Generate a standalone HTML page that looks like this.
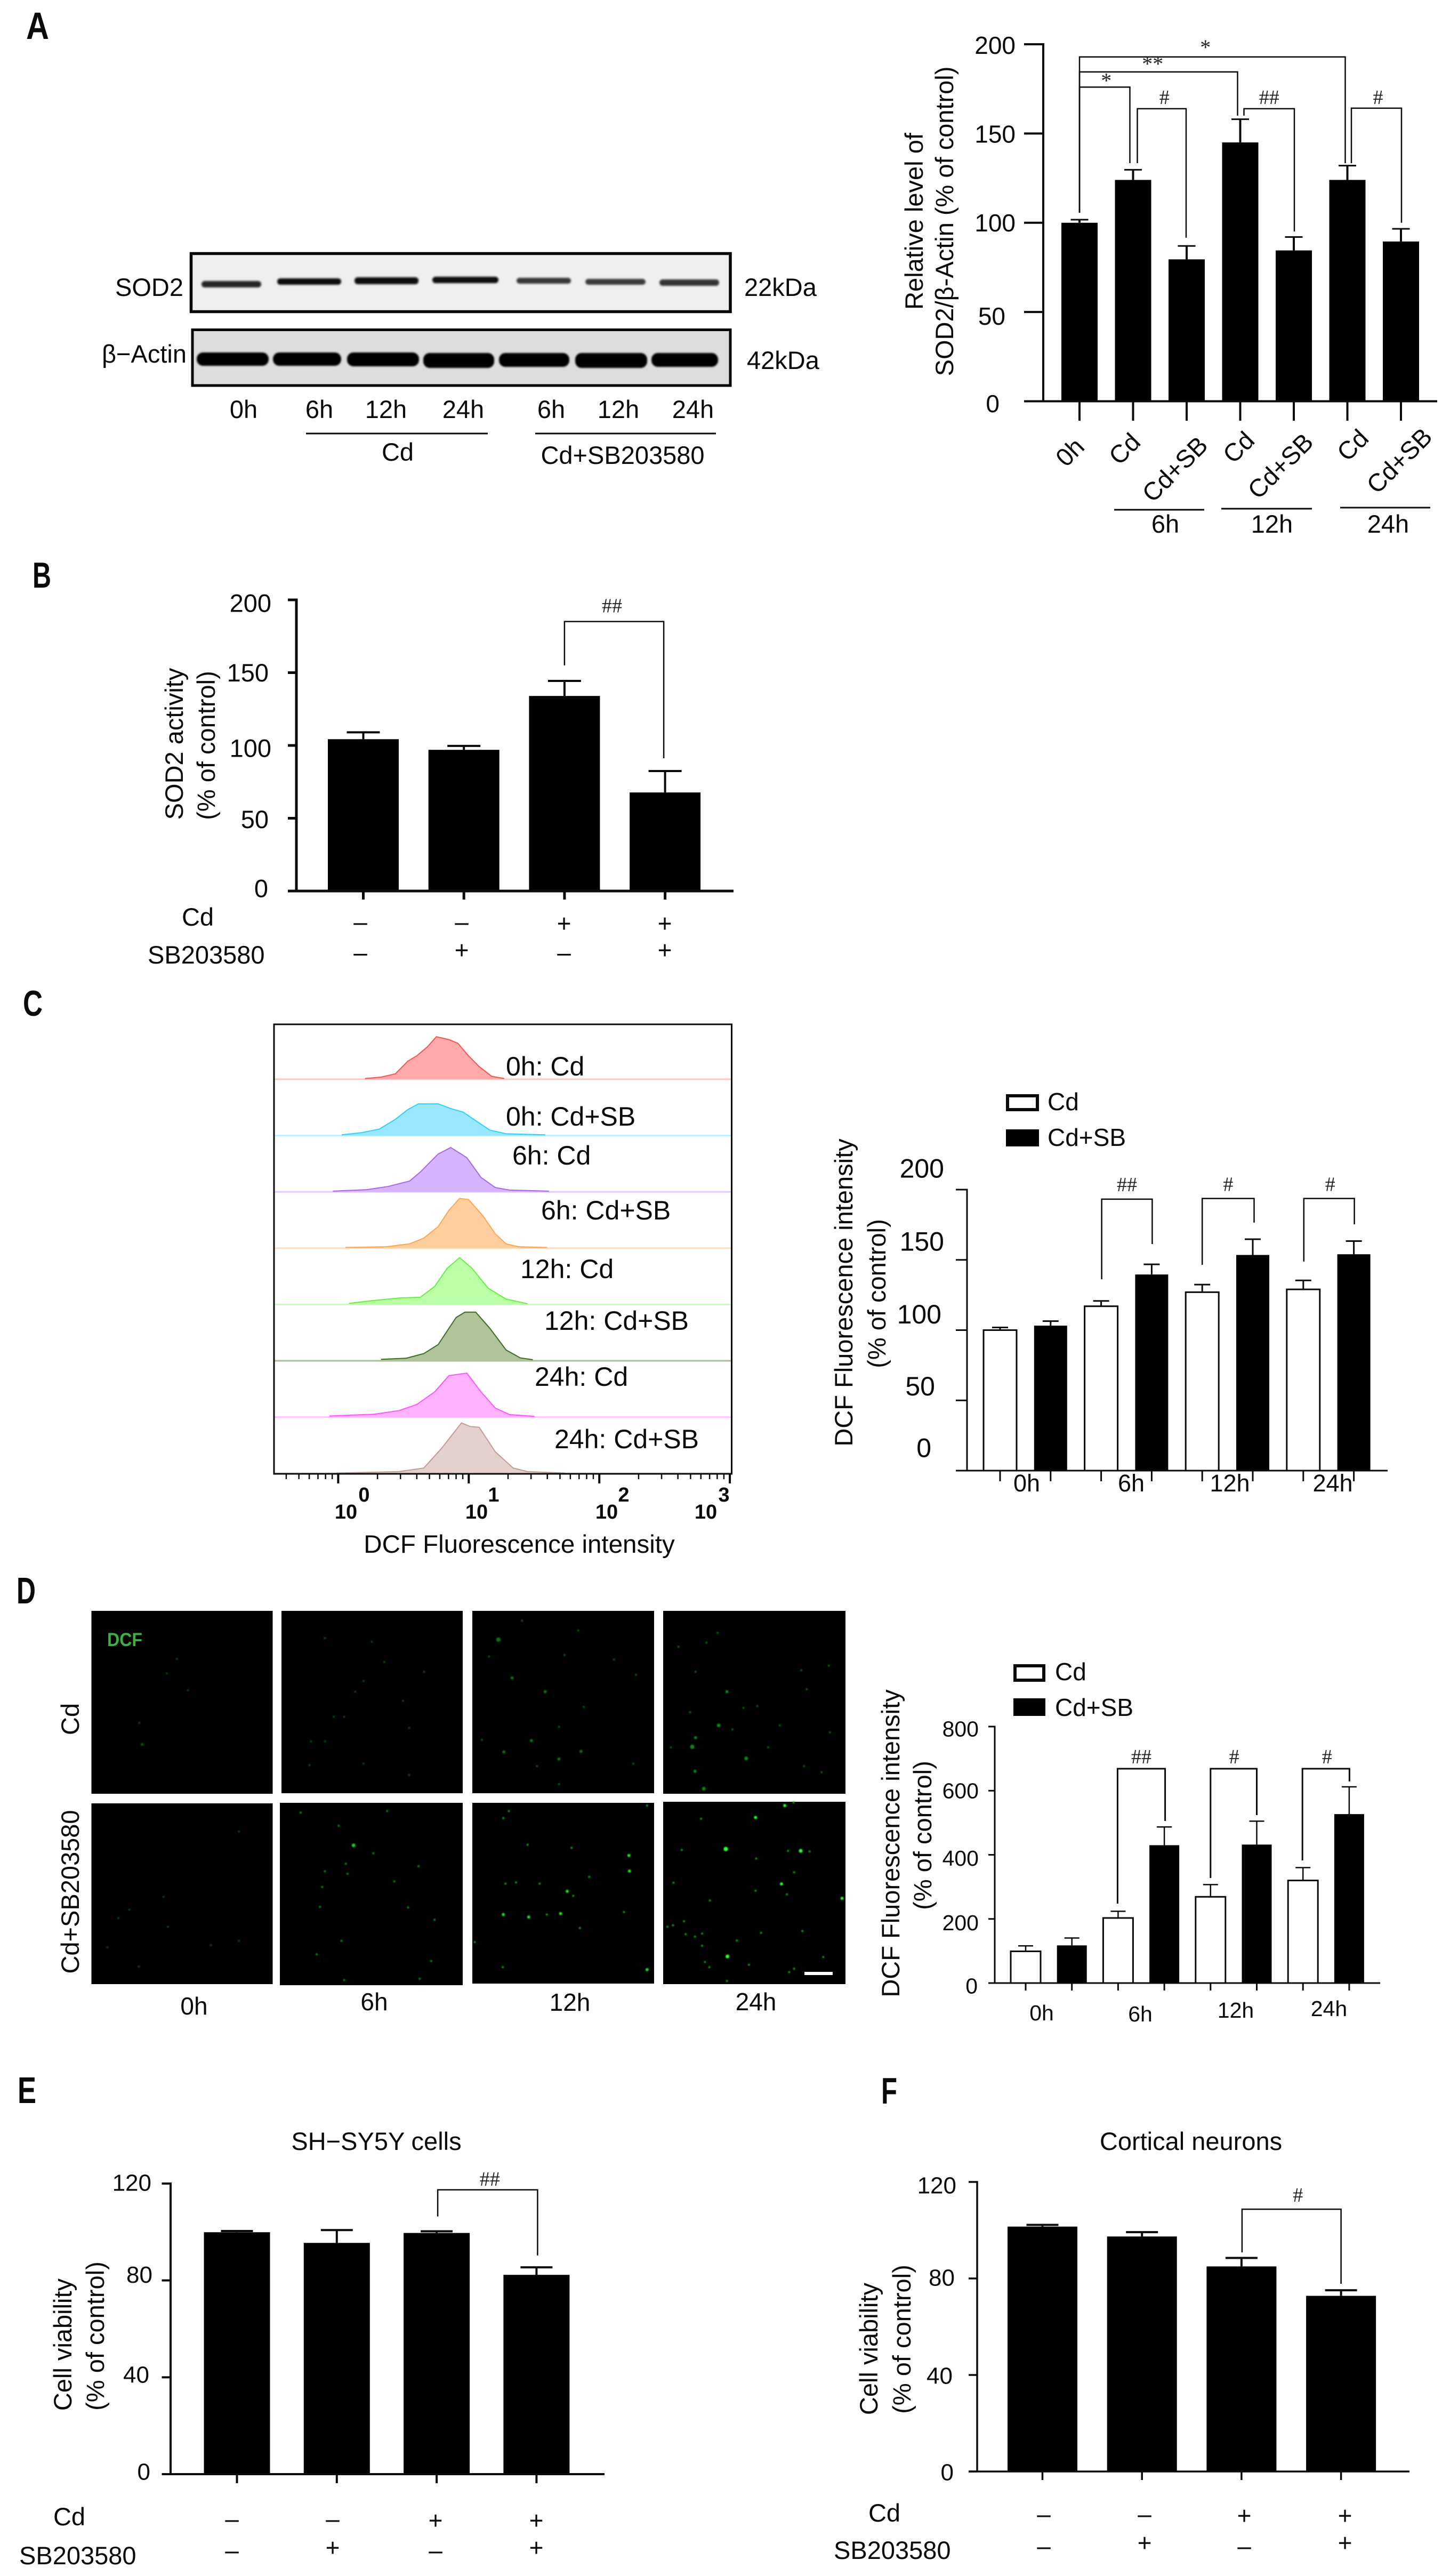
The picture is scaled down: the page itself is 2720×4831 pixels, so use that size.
<!DOCTYPE html>
<html lang="en">
<head>
<meta charset="utf-8">
<title>SOD2 and DCF multi-panel figure</title>
<style>
html,body{margin:0;padding:0;background:#fff;}
svg{display:block;font-family:"Liberation Sans",sans-serif;fill:#0a0a0a;}
.letter{font-weight:bold;}
</style>
</head>
<body>
<svg id="figure" xmlns="http://www.w3.org/2000/svg" width="2720" height="4831" viewBox="0 0 2720 4831">
<defs>
<filter id="blur3" x="-20%" y="-80%" width="140%" height="260%"><feGaussianBlur stdDeviation="1.8"/></filter>
<filter id="blur2" x="-20%" y="-50%" width="140%" height="200%"><feGaussianBlur stdDeviation="1.6"/></filter>
<filter id="dotblur" x="-300%" y="-300%" width="700%" height="700%"><feGaussianBlur stdDeviation="1"/></filter>
</defs>
<rect x="0" y="0" width="2720" height="4831" fill="#fff"/>

<text class="letter" x="49" y="73" font-size="71" textLength="43" lengthAdjust="spacingAndGlyphs">A</text>
<text class="letter" x="61" y="1102" font-size="68" textLength="35" lengthAdjust="spacingAndGlyphs">B</text>
<text class="letter" x="43" y="1905" font-size="68" textLength="37" lengthAdjust="spacingAndGlyphs">C</text>
<text class="letter" x="31" y="3007" font-size="70" textLength="36" lengthAdjust="spacingAndGlyphs">D</text>
<text class="letter" x="33" y="3944" font-size="70" textLength="35" lengthAdjust="spacingAndGlyphs">E</text>
<text class="letter" x="1653" y="3945" font-size="70" textLength="30" lengthAdjust="spacingAndGlyphs">F</text>

<g>
  <rect x="358.5" y="475.5" width="1011.5" height="109" fill="#efefef" stroke="#050505" stroke-width="5.5"/>
  <g filter="url(#blur3)" fill="#080808">
    <rect x="378" y="527" width="112" height="12" rx="6" opacity=".9"/>
    <rect x="520" y="522" width="120" height="12" rx="6"/>
    <rect x="665" y="520" width="120" height="13" rx="6"/>
    <rect x="811" y="519" width="124" height="12" rx="6"/>
    <rect x="969" y="521" width="102" height="11" rx="6" opacity=".82"/>
    <rect x="1098" y="523" width="113" height="11" rx="6" opacity=".75"/>
    <rect x="1237" y="524" width="112" height="12" rx="6" opacity=".78"/>
  </g>
  <rect x="361" y="618.5" width="1009" height="104.5" fill="#dddddd" stroke="#050505" stroke-width="5"/>
  <g filter="url(#blur2)" fill="#030303">
    <rect x="369" y="661" width="135" height="25" rx="12"/>
    <rect x="512" y="661" width="128" height="25" rx="12"/>
    <rect x="651" y="661" width="135" height="26" rx="12"/>
    <rect x="794" y="662" width="133" height="28" rx="12"/>
    <rect x="936" y="662" width="132" height="26" rx="12"/>
    <rect x="1079" y="662" width="135" height="28" rx="12"/>
    <rect x="1222" y="662" width="125" height="26" rx="12"/>
  </g>
  <text x="344" y="555" font-size="47" text-anchor="end">SOD2</text>
  <text x="350" y="680" font-size="47" text-anchor="end">β−Actin</text>
  <text x="1396" y="555" font-size="47">22kDa</text>
  <text x="1401" y="692" font-size="47">42kDa</text>
  <g font-size="47" text-anchor="middle">
    <text x="457" y="784">0h</text>
    <text x="599" y="784">6h</text>
    <text x="724" y="784">12h</text>
    <text x="869" y="784">24h</text>
    <text x="1034" y="784">6h</text>
    <text x="1160" y="784">12h</text>
    <text x="1300" y="784">24h</text>
    <text x="746" y="864">Cd</text>
    <text x="1168" y="870">Cd+SB203580</text>
  </g>
  <line x1="574" y1="813" x2="915" y2="813" stroke="#0a0a0a" stroke-width="3"/>
  <line x1="1004" y1="813" x2="1343" y2="813" stroke="#0a0a0a" stroke-width="3"/>
</g>
</svg>

<script>
/* ---------- chart values ---------- */
const aCategories = ['0h','Cd','Cd+SB','Cd','Cd+SB','Cd','Cd+SB'];
const aValues = [100,124,79.5,145,84.5,124,89.5];
const aErrors = [1.7,5.7,7.5,13,7.5,8,7.1];
const aTicks = [0,50,100,150,200];
const aTimeGroups = ['6h','12h','24h'];
const aBrackets = [
  {from:0,to:5,level:192.9,fromEnd:105.6,toEnd:133.4,label:'*'},
  {from:0,to:3,level:184.5,fromEnd:105.6,toEnd:160,label:'**'},
  {from:0,to:1,level:176,fromEnd:105.6,toEnd:133.4,label:'*'},
  {from:1,to:2,level:163.9,fromEnd:133.4,toEnd:91.6,label:'#'},
  {from:3,to:4,level:163.9,fromEnd:160,toEnd:95.1,label:'##'},
  {from:5,to:6,level:164.2,fromEnd:133.4,toEnd:100,label:'#'}
];

const bValues = [104.3,97,134,67.7];
const bErrors = [4.7,2.7,10.3,14.7];
const bTicks = [0,50,100,150,200];
const bCdRow = ['–','–','+','+'];
const bSbRow = ['–','+','–','+'];
const bBrackets = [{from:2,to:3,level:185.1,fromEnd:155,toEnd:91.2,label:'##'}];

const histLabels = ['0h: Cd','0h: Cd+SB','6h: Cd','6h: Cd+SB','12h: Cd','12h: Cd+SB','24h: Cd','24h: Cd+SB'];
const histLog0hCd = [.205,.328,.438,.533,.602,.684,.752,.848,.916,.998,1.08,1.176,1.272];
const histCount0hCd = [2,6,15,50,65,90,118,110,100,65,35,8,2];
const histLog0hSb = [.027,.178,.315,.438,.533,.615,.766,.862,.957,1.067,1.162,1.286,1.586];
const histCount0hSb = [2,8,18,45,72,88,88,75,65,38,15,5,2];
const histLog6hCd = [-.041,.219,.383,.547,.629,.766,.862,.985,1.094,1.203,1.313,1.614];
const histCount6hCd = [2,6,15,30,55,105,123,95,40,12,5,2];
const histLog6hSb = [.055,.369,.547,.656,.766,.848,.93,.998,1.108,1.203,1.286,1.381,1.6];
const histCount6hSb = [2,4,12,28,60,105,138,135,90,40,12,4,2];
const histLog12hCd = [.082,.246,.465,.629,.739,.834,.93,1.026,1.149,1.286,1.45];
const histCount12hCd = [3,10,18,20,50,100,130,100,45,15,2];
const histLog12hSb = [.328,.52,.656,.766,.903,.971,1.053,1.162,1.286,1.395,1.491];
const histCount12hSb = [4,7,20,45,120,135,135,90,30,8,3];
const histLog24hCd = [-.068,.274,.465,.602,.739,.848,.985,1.094,1.203,1.313,1.504];
const histCount24hCd = [3,8,18,35,70,115,122,70,25,7,2];
const histLog24hSb = [-.014,.465,.656,.793,.944,1.012,1.08,1.203,1.34,1.45,1.737];
const histCount24hSb = [1,5,15,70,140,130,128,60,15,5,1];
const histDecades = [0,1,2,3];

const cGroups = ['0h','6h','12h','24h'];
const cCdValues = [100,117,127,129];
const cCdErrors = [1.9,3.8,5.4,6.4];
const cSbValues = [103.2,139.6,153.5,154];
const cSbErrors = [3.2,7.2,11.2,9.4];
const cTicks = [0,50,100,150,200];
const cBrackets = [
  {from:2,to:3,level:193.2,fromEnd:136.2,toEnd:161.3,label:'##'},
  {from:4,to:5,level:193.7,fromEnd:146.5,toEnd:176.5,label:'#'},
  {from:6,to:7,level:193.7,fromEnd:148.8,toEnd:175.3,label:'#'}
];

const dGroups = ['0h','6h','12h','24h'];
const dCdValues = [99,203,269,320];
const dCdErrors = [17,21,38,40];
const dSbValues = [117.5,430,432,527];
const dSbErrors = [23,57,73,85];
const dTicks = [0,200,400,600,800];
const dBrackets = [
  {from:2,to:3,level:668.6,fromEnd:247.9,toEnd:505.6,label:'##'},
  {from:4,to:5,level:668.6,fromEnd:327.6,toEnd:524,label:'#'},
  {from:6,to:7,level:668.6,fromEnd:382.5,toEnd:628.9,label:'#'}
];

const eValues = [99.9,95.5,99.6,82.3];
const eErrors = [.5,5.3,.7,3.1];
const eTicks = [0,40,80,120];
const eCdRow = ['–','–','+','+'];
const eSbRow = ['–','+','–','+'];
const eBrackets = [{from:2,to:3,level:117.4,fromEnd:106.4,toEnd:90.3,label:'##'}];

const fValues = [101.5,97.4,85,72.8];
const fErrors = [.7,1.8,3.5,2.3];
const fTicks = [0,40,80,120];
const fCdRow = ['–','–','+','+'];
const fSbRow = ['–','+','–','+'];
const fBrackets = [{from:2,to:3,level:108.7,fromEnd:90.8,toEnd:77.8,label:'#'}];

/* ---------- micrograph spots (image coordinates, not chart data) ---------- */
const spotsCd0h = [[321,333],[253,542],[258,612,5],[341,435],[303,380]];
const spotsCd6h = [[698,343],[660,405],[645,440],[606,522],[625,522],[590,265],[675,277],[770,375],[743,558],[732,470],[562,680],[743,712],[590,602],[565,602],[660,675]];
const spotsCd12h = [[1050,240],[948,208],[905,270,7],[888,325],[1025,320],[930,395,5],[1155,385],[990,440,5],[1060,490],[1015,555],[965,600,5],[915,637,5],[1055,635,5],[1015,660,5],[875,597],[1150,675],[1115,335],[975,683],[1015,742]];
const spotsCd24h = [[1232,293],[1303,248],[1263,375],[1320,440,5],[1350,493],[1253,507],[1305,550,6],[1416,550],[1330,563],[1257,620,7],[1263,590,5],[1355,658,6],[1505,355],[1507,573],[1465,432],[1375,487],[1395,622],[1460,683],[1278,757,6],[1262,700,5],[1492,703],[1455,370],[1283,280],[1218,622]];
const spotsSb0h = [[434,897],[235,1152],[383,1268],[434,1254],[195,1275],[297,1110],[215,1180],[305,1208],[252,1338]];
const spotsSb6h = [[703,830],[546,835],[642,942,6],[678,968],[628,1002],[760,1010],[590,1027],[631,1035],[716,1060],[585,1078],[741,1145],[789,1185],[620,1254],[575,1298],[783,1320],[625,1382],[762,1378],[615,878],[581,1143]];
const spotsSb12h = [[924,830],[914,853],[1175,812],[958,940],[1038,950],[1142,975,5],[1143,1026,5],[937,1063],[980,1067],[1030,1092,5],[1041,1107],[914,1168,5],[960,1176,5],[993,1168],[1018,1165,5],[1053,1212],[862,1258],[913,1340],[1175,1348,5],[1133,1160],[1070,1045],[918,1067]];
const spotsSb24h = [[1425,812,5],[1441,802],[1372,851,5],[1273,855],[1318,954,7],[1238,957],[1454,960,6],[1431,960],[1470,962],[1373,985],[1442,1030],[1419,1068,5],[1223,1064],[1372,1090],[1429,1102],[1529,1115,5],[1289,1122],[1242,1190],[1222,1203],[1212,1208],[1245,1232],[1275,1230],[1262,1240],[1382,1228],[1457,1222],[1338,1253],[1275,1270],[1321,1305,6],[1280,1323],[1360,1332],[1442,1345],[1433,1356],[1495,1307],[1288,1340],[1320,1385]];

/* ---------- layout (pixels live here, not in the data arrays) ---------- */
const aLayout = {axisX:1957,y0:752.5,yTop:83,yMax:200,tickLeft:1921,xEnd:2696,c0:2025,step:100.5,barW:68,tickBottom:789,axisW:4,capW:33,stem:4,capH:3,
  tickFont:46,tickRight:[1875,1886,1905,1905,1905],tickDy:[4.5,8,0,1,2],bracketW:2.5,
  nudges:[[0,-4,-13,-19],[0,-5,-11,-16],[0,-6,3,-13],[8,-1,5,-22],[7,1,0,-22],[7.5,1,3,-21]]};
const bLayout = {axisX:556,y0:1671,yTop:1125,yMax:200,tickLeft:540,xEnd:1376,c0:681.5,step:188.7,barW:133,tickBottom:1687,axisW:5,capW:62,stem:4,capH:4,
  tickFont:47,tickRight:[503,504,509,504,509],tickDy:[-5,2,5,0,6],bracketW:2.5,nudges:[[0,-2.5,-4,-30]]};
const cLayout = {axisX:1814,y0:2758,yTop:2231,yMax:200,tickLeft:1793,xEnd:2603,c0:1876,step:94.8,barW:62,tickBottom:2778,axisW:3,capW:30,stem:3,capH:3,
  tickFont:50,tickRight:[1747,1754,1766,1771,1771],tickDy:[-43,-27,-30,-35,-40],bracketW:2.5,
  nudges:[[1,1,0,-28],[0,2.5,0,-27],[1,1,2,-27]],whiteOdd:true};
const dLayout = {axisX:1866,y0:3719,yTop:3238,yMax:800,tickLeft:1854,xEnd:2589,c0:1924,step:86.7,barW:56,tickBottom:3733,axisW:3,capW:28,stem:2.5,capH:2.5,
  tickFont:41,tickRight:[1834,1836,1836,1836,1836],tickDy:[5,7,6,0,4],bracketW:3,
  nudges:[[-1,1.5,0,-23],[0,0,1,-23],[-1,0.5,2,-23]],whiteOdd:true};
const eLayout = {axisX:320,y0:4640,yTop:4095,yMax:120,tickLeft:303.5,xEnd:1134,c0:444.5,step:187.3,barW:124,tickBottom:4657,axisW:4,capW:60,stem:4,capH:4,
  tickFont:44,tickRight:[282,280,286,284],tickDy:[-5,-5,-11,-2],bracketW:2.5,nudges:[[2,2,4,-21]]};
const fLayout = {axisX:1833,y0:4635,yTop:4092,yMax:120,tickLeft:1817,xEnd:2644,c0:1955.5,step:186.7,barW:131,tickBottom:4651,axisW:3.5,capW:60,stem:4,capH:4,
  tickFont:44,tickRight:[1789,1787,1791,1794],tickDy:[1,1,-2,6],bracketW:2.5,nudges:[[1,0,12,-27]]};

const NS = 'http://www.w3.org/2000/svg';
const figure = document.getElementById('figure');

function make(tag, attrs, parent) {
  const node = document.createElementNS(NS, tag);
  for (const k in attrs) node.setAttribute(k, attrs[k]);
  (parent || figure).appendChild(node);
  return node;
}
function write(parent, str, x, y, size, anchor, extra) {
  const node = make('text', Object.assign({x: x, y: y, 'font-size': size, 'text-anchor': anchor || 'start'}, extra || {}), parent);
  node.textContent = str;
  return node;
}
function yAt(L, v) { return L.y0 - (v / L.yMax) * (L.y0 - L.yTop); }
function xAt(L, i) { return L.c0 + i * L.step; }

function drawAxes(L, ticks, prefix, nBars) {
  const g = make('g', {stroke: '#0a0a0a', fill: 'none'});
  
  
  const yLine = make('line', {x1: L.axisX, x2: L.axisX, y1: L.yTop - L.axisW / 2, y2: L.y0, 'stroke-width': L.axisW}, g);
  
  
  const xLine = make('line', {x1: L.tickLeft, x2: L.xEnd, y1: L.y0, y2: L.y0, 'stroke-width': L.axisW}, g);
  
  
  ticks.forEach(function (t, i) {
    const y = yAt(L, t);
    const mark = make('line', {x1: L.tickLeft, x2: L.axisX, y1: y, y2: y, 'stroke-width': L.axisW}, g);
    
    
    const lab = write(figure, String(t), L.tickRight[i], y + L.tickDy[i] + L.tickFont * 0.35, L.tickFont, 'end');
    
    
  });
  for (let i = 0; i < nBars; i++) {
    const mark = make('line', {x1: xAt(L, i), x2: xAt(L, i), y1: L.y0, y2: L.tickBottom, 'stroke-width': L.axisW}, g);
    
    
  }
}

function drawBars(L, values, errors, prefix) {
  values.forEach(function (v, i) {
    const x = xAt(L, i), top = yAt(L, v), errTop = yAt(L, v + errors[i]);
    const stem = make('line', {x1: x, x2: x, y1: top, y2: errTop, stroke: '#0a0a0a', 'stroke-width': L.stem});
    
    
    const cap = make('line', {x1: x - L.capW / 2, x2: x + L.capW / 2, y1: errTop, y2: errTop, stroke: '#0a0a0a', 'stroke-width': L.capH});
    
    
    const white = L.whiteOdd && i % 2 === 0;
    const bar = make('rect', {x: x - L.barW / 2, y: top, width: L.barW, height: L.y0 - top,
      fill: white ? '#fff' : '#000', stroke: white ? '#0a0a0a' : 'none', 'stroke-width': white ? 3 : 0});
    
    
  });
}

function drawBrackets(L, brackets, prefix) {
  brackets.forEach(function (b, i) {
    const n = L.nudges[i];
    const x1 = xAt(L, b.from) + n[0], x2 = xAt(L, b.to) + n[1], lev = yAt(L, b.level);
    const line = make('polyline', {points: x1 + ',' + yAt(L, b.fromEnd) + ' ' + x1 + ',' + lev + ' ' + x2 + ',' + lev + ' ' + x2 + ',' + yAt(L, b.toEnd),
      fill: 'none', stroke: '#0a0a0a', 'stroke-width': L.bracketW});
    
    
    const star = b.label.charAt(0) === '*';
    const mark = write(figure, b.label, (x1 + x2) / 2 + n[2], lev + n[3] + (star ? 14 : 13), star ? 40 : 38, 'middle',
      {'font-family': '"Liberation Serif",serif', fill: '#222'});
    
    
  });
}

function drawTreatmentRows(rowCd, rowSb, xs, rowCenters, prefix) {
  [rowCd, rowSb].forEach(function (row, r) {
    row.forEach(function (sym, i) {
      const plus = sym === '+';
      const center = plus ? rowCenters[r][0] : rowCenters[r][1];
      const node = write(figure, sym, xs[i], center + (plus ? 15.5 : 12.5), 46, 'middle');
      
      
    });
  });
}

function vertical(str, cx, cy, name) {
  const x = cx + 17;
  const node = write(figure, str, x, cy, 47, 'middle', {transform: 'rotate(-90 ' + x + ' ' + cy + ')'});
  
  
}

function flat(a, b) { const out = []; a.forEach(function (v, i) { out.push(v, b[i]); }); return out; }

/* ---------- Panel A ---------- */
drawBars(aLayout, aValues, aErrors, 'sod2-level');
drawAxes(aLayout, aTicks, 'sod2-level', aValues.length);
drawBrackets(aLayout, aBrackets, 'sod2-level');
vertical('Relative level of', 1714, 415, 'sod2-level-y-title-line1');
vertical('SOD2/β-Actin (% of control)', 1771, 415, 'sod2-level-y-title-line2');
const aLabelDx = [-18,-16,-22,-3,-25,10,-3];
const aLabelY = [848,842,880,839,874,835,864];
aCategories.forEach(function (c, i) {
  const x = xAt(aLayout, i) + aLabelDx[i], y = aLabelY[i] + 16;
  const node = write(figure, c, x, y, 47, 'middle', {transform: 'rotate(-45 ' + x + ' ' + aLabelY[i] + ')'});
  
  
});
const aGroupLineStart = [2090,2291,2514];
const aGroupLineEnd = [2259,2461,2683];
const aGroupLineY = [956,954,952];
const aGroupLabelX = [2186,2386,2604];
aTimeGroups.forEach(function (g, i) {
  const rule = make('line', {x1: aGroupLineStart[i], x2: aGroupLineEnd[i], y1: aGroupLineY[i], y2: aGroupLineY[i], stroke: '#0a0a0a', 'stroke-width': 3});
  
  
  const node = write(figure, g, aGroupLabelX[i], 999, 47, 'middle');
  
  
});

/* ---------- Panel B ---------- */
drawBars(bLayout, bValues, bErrors, 'sod2-activity');
drawAxes(bLayout, bTicks, 'sod2-activity', bValues.length);
drawBrackets(bLayout, bBrackets, 'sod2-activity');
vertical('SOD2 activity', 326, 1395, 'sod2-activity-y-title-line1');
vertical('(% of control)', 386, 1398, 'sod2-activity-y-title-line2');
const bCdLabel = write(figure, 'Cd', 371, 1736, 47, 'middle');


const bSbLabel = write(figure, 'SB203580', 277, 1807, 47);


drawTreatmentRows(bCdRow, bSbRow, [676,866,1058,1247], [[1732,1732],[1782,1789.5]], 'sod2-activity');

/* ---------- Panel C histogram ---------- */
const histBoxLeft = 514, histBoxRight = 1372.5, histBoxTop = 1921, histBoxBottom = 2764;
const histOrigin = 634.4, histDecadePx = 244.9, histRow0 = 2024, histRowStep = 105.6, histCountPx = 0.676;
function histX(l) { return histOrigin + l * histDecadePx; }
const histSeries = [
  [histLog0hCd, histCount0hCd, '#f25555', '#ffaaaa', '#ffc8c8'],
  [histLog0hSb, histCount0hSb, '#33ccff', '#99e8ff', '#bdf0ff'],
  [histLog6hCd, histCount6hCd, '#a866ee', '#d8b4ff', '#e2ccff'],
  [histLog6hSb, histCount6hSb, '#ffa64d', '#ffcfa0', '#ffdcbc'],
  [histLog12hCd, histCount12hCd, '#66ee44', '#bbffa6', '#c8ffb8'],
  [histLog12hSb, histCount12hSb, '#3a6b1e', '#afc49b', '#a9bd96'],
  [histLog24hCd, histCount24hCd, '#ff55ff', '#ffb2ff', '#ffc4ff'],
  [histLog24hSb, histCount24hSb, '#c49a94', '#e4d0cc', '#dcc4c0']
];
histSeries.forEach(function (s, i) {
  const base = histRow0 + i * histRowStep;
  const rule = make('line', {x1: histBoxLeft, x2: histBoxRight, y1: base, y2: base, stroke: s[4], 'stroke-width': 3});
  
  
  const pts = s[0].map(function (l, k) { return histX(l) + ',' + (base - s[1][k] * histCountPx); }).join(' ');
  const area = make('polygon', {points: histX(s[0][0]) + ',' + base + ' ' + pts + ' ' + histX(s[0][s[0].length - 1]) + ',' + base, fill: s[3]});
  
  
  const outline = make('polyline', {points: pts, fill: 'none', stroke: s[2], 'stroke-width': 2});
  
  
});
const histFrame = make('rect', {x: histBoxLeft, y: histBoxTop, width: histBoxRight - histBoxLeft, height: histBoxBottom - histBoxTop, fill: 'none', stroke: '#0a0a0a', 'stroke-width': 3});


const histLabelX = [949,949,961,1015,976,1021,1003,1040];
const histLabelY = [2017,2111,2184,2287,2397,2494,2599,2716];
histLabels.forEach(function (t, i) {
  const node = write(figure, t, histLabelX[i], histLabelY[i], 50);
  
  
});
for (let d = -1; d < 3; d++) {
  for (let m = 2; m < 10; m++) {
    const x = histX(d + Math.log10(m));
    if (x < histBoxLeft) continue;
    const mark = make('line', {x1: x, x2: x, y1: histBoxBottom, y2: 2774, stroke: '#0a0a0a', 'stroke-width': 2.5});
    
    
  }
}
const histTenX = [649,894,1138,1324];
const histSupX = [683,926,1170,1358];
histDecades.forEach(function (d, i) {
  const x = histX(d);
  const mark = make('line', {x1: x, x2: x, y1: histBoxBottom, y2: 2782, stroke: '#0a0a0a', 'stroke-width': 4});
  
  
  const ten = write(figure, '10', histTenX[i], 2848, 38, 'middle', {'font-weight': 'bold'});
  
  
  const sup = write(figure, String(d), histSupX[i], 2816, 38, 'middle', {'font-weight': 'bold'});
  
  
});
const histTitle = write(figure, 'DCF Fluorescence intensity', 974, 2912, 47.5, 'middle');



/* ---------- Grouped charts C and D ---------- */
function drawGroupedLegend(prefix, boxX, boxW, y1, y2, h, textX, base1, base2, border) {
  const a = make('rect', {x: boxX + border / 2, y: y1 + border / 2, width: boxW - border, height: h - border, fill: '#fff', stroke: '#0a0a0a', 'stroke-width': border});
  
  
  const ta = write(figure, 'Cd', textX, base1, 46);
  
  
  const b = make('rect', {x: boxX, y: y2, width: boxW, height: h, fill: '#000'});
  
  
  const tb = write(figure, 'Cd+SB', textX, base2, 46);
  
  
}

drawBars(cLayout, flat(cCdValues, cSbValues), flat(cCdErrors, cSbErrors), 'dcf-flow');
drawAxes(cLayout, cTicks, 'dcf-flow', cGroups.length * 2);
drawBrackets(cLayout, cBrackets, 'dcf-flow');
drawGroupedLegend('dcf-flow', 1887, 62, 2052, 2118, 32, 1965, 2082, 2149, 6);
vertical('DCF Fluorescence intensity', 1582, 2424, 'dcf-flow-y-title-line1');
vertical('(% of control)', 1644, 2426, 'dcf-flow-y-title-line2');
const cGroupLabelX = [1926,2122,2307,2500];
cGroups.forEach(function (g, i) {
  const node = write(figure, g, cGroupLabelX[i], 2797, 45, 'middle');
  
  
});

drawBars(dLayout, flat(dCdValues, dSbValues), flat(dCdErrors, dSbErrors), 'dcf-image');
drawAxes(dLayout, dTicks, 'dcf-image', dGroups.length * 2);
drawBrackets(dLayout, dBrackets, 'dcf-image');
drawGroupedLegend('dcf-image', 1901, 60, 3121, 3185, 33, 1979, 3151, 3218, 6);
vertical('DCF Fluorescence intensity', 1670, 3457, 'dcf-image-y-title-line1');
vertical('(% of control)', 1730, 3442, 'dcf-image-y-title-line2');
const dGroupLabelX = [1954,2139,2318,2493];
const dGroupLabelY = [3789,3791,3784,3781];
dGroups.forEach(function (g, i) {
  const node = write(figure, g, dGroupLabelX[i], dGroupLabelY[i], 41, 'middle');
  
  
});

/* ---------- Panel D micrographs ---------- */
const microPanels = [
  ['cd-0h', 171.5, 3021, 340, 343, spotsCd0h, '#0a4a0e', '#0a4a0e'],
  ['cd-6h', 528, 3021, 340, 342, spotsCd6h, '#0a4f0e', '#0a4f0e'],
  ['cd-12h', 886, 3021, 341, 342, spotsCd12h, '#0b5a10', '#0e7013'],
  ['cd-24h', 1244, 3021, 342, 343, spotsCd24h, '#0c6211', '#118218'],
  ['sb-0h', 171.5, 3382, 340, 339, spotsSb0h, '#0a4a0e', '#0a4a0e'],
  ['sb-6h', 525, 3381, 343, 342, spotsSb6h, '#0f8a15', '#1fc625'],
  ['sb-12h', 886, 3381, 341, 339, spotsSb12h, '#12a018', '#22e028'],
  ['sb-24h', 1244, 3379, 342, 342, spotsSb24h, '#12a018', '#2cff32']
];
microPanels.forEach(function (p) {
  const frame = make('rect', {x: p[1], y: p[2], width: p[3], height: p[4], fill: '#000'});
  
  
  const g = make('g', {fill: p[6], filter: 'url(#dotblur)'});
  
  
  p[5].forEach(function (s) {
    const dot = make('circle', {cx: s[0] / 0.968, cy: 2920 + s[1] / 1.742, r: s[2] ? s[2] * 0.6 : 2, fill: s[2] ? p[7] : p[6]}, g);
    
    
  });
});
const dcfTag = write(figure, 'DCF', 201, 3087, 35, 'start', {'font-weight': 'bold', fill: '#3cb043', textLength: 66, lengthAdjust: 'spacingAndGlyphs'});


const scaleBar = make('rect', {x: 1509, y: 3698, width: 53, height: 6, fill: '#fff'});


vertical('Cd', 131, 3224, 'micrograph-row-label-cd');
vertical('Cd+SB203580', 131, 3548, 'micrograph-row-label-cd-sb203580');
const microColLabels = ['0h','6h','12h','24h'];
const microColX = [364,702,1069,1418];
const microColY = [3778,3770,3771,3770];
microColLabels.forEach(function (t, i) {
  const node = write(figure, t, microColX[i], microColY[i], 46, 'middle');
  
  
});

/* ---------- Panels E and F ---------- */
drawBars(eLayout, eValues, eErrors, 'viability-shsy5y');
drawAxes(eLayout, eTicks, 'viability-shsy5y', eValues.length);
drawBrackets(eLayout, eBrackets, 'viability-shsy5y');
const eTitle = write(figure, 'SH−SY5Y cells', 706, 4032, 47, 'middle');


vertical('Cell viability', 117, 4397, 'viability-shsy5y-y-title-line1');
vertical('(% of control)', 178, 4381, 'viability-shsy5y-y-title-line2');
const eCdLabel = write(figure, 'Cd', 130, 4736, 47, 'middle');


const eSbLabel = write(figure, 'SB203580', 36, 4809, 47);


drawTreatmentRows(eCdRow, eSbRow, [435,624,817,1006], [[4727,4727],[4778,4786]], 'viability-shsy5y');

drawBars(fLayout, fValues, fErrors, 'viability-cortical');
drawAxes(fLayout, fTicks, 'viability-cortical', fValues.length);
drawBrackets(fLayout, fBrackets, 'viability-cortical');
const fTitle = write(figure, 'Cortical neurons', 2234, 4032, 47, 'middle');


vertical('Cell viability', 1629, 4405, 'viability-cortical-y-title-line1');
vertical('(% of control)', 1691, 4387, 'viability-cortical-y-title-line2');
const fCdLabel = write(figure, 'Cd', 1659, 4729, 47, 'middle');


const fSbLabel = write(figure, 'SB203580', 1564, 4799, 47);


drawTreatmentRows(fCdRow, fSbRow, [1958,2147,2334,2523], [[4718,4718],[4769,4778]], 'viability-cortical');
</script>
</body>
</html>
